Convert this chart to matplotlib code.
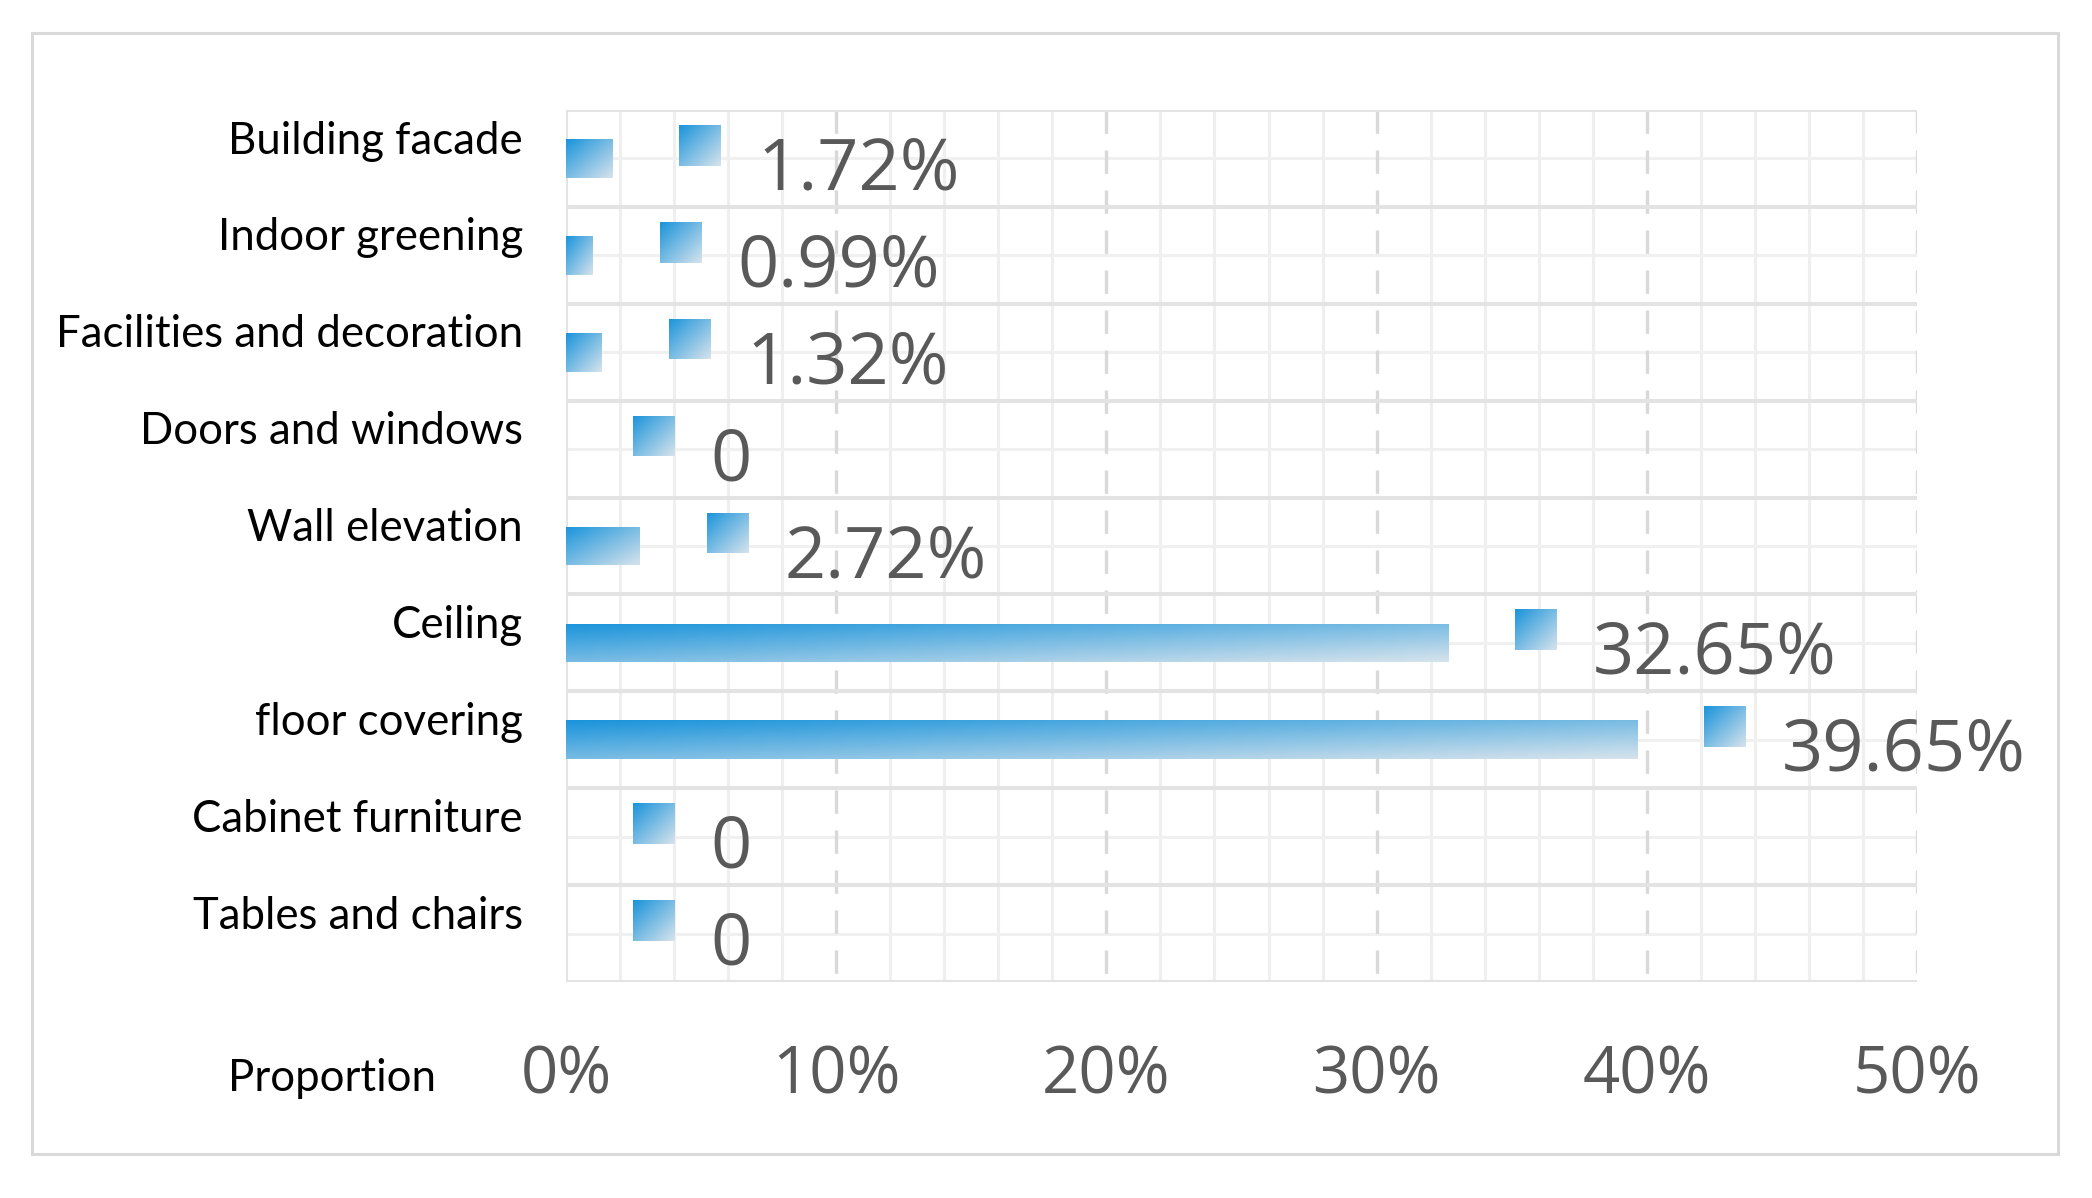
import numpy as np
import matplotlib
matplotlib.use("Agg")
import matplotlib.pyplot as plt
from matplotlib.colors import LinearSegmentedColormap
from matplotlib.patches import Rectangle

# ---- data ----
categories = ["Building facade", "Indoor greening", "Facilities and decoration",
              "Doors and windows", "Wall elevation", "Ceiling", "floor covering",
              "Cabinet furniture", "Tables and chairs"]
values = [1.72, 0.99, 1.32, 0, 2.72, 32.65, 39.65, 0, 0]
value_labels = ["1.72%", "0.99%", "1.32%", "0", "2.72%", "32.65%", "39.65%", "0", "0"]
x_ticks = [0, 10, 20, 30, 40, 50]
x_tick_labels = ["0%", "10%", "20%", "30%", "40%", "50%"]
axis_title = "Proportion"

W, H = 2092, 1198
fig = plt.figure(figsize=(W / 100, H / 100), dpi=100)
ax = fig.add_axes([566 / W, 1 - 982 / H, (1917 - 566) / W, (982 - 110) / H])

ypos = np.arange(len(categories))
vals = np.array(values, dtype=float)

# gradient fill
cmap = LinearSegmentedColormap.from_list("g", ["#1a94db", "#d6e3ec"])
n = 64
u = np.linspace(0, 1, n)
G = 0.5 * u[None, :] + 0.5 * u[:, None]


def grad_fill(patch):
    x0, y0 = patch.get_x(), patch.get_y()
    w, h = patch.get_width(), patch.get_height()
    if w <= 0:
        return
    im = ax.imshow(G, cmap=cmap, vmin=0, vmax=1,
                   extent=(x0, x0 + w, y0 + h, y0), origin="upper",
                   aspect="auto", interpolation="bilinear", zorder=3)
    im.set_clip_path(patch)


# main bars
bars = ax.barh(ypos, vals, height=0.4, color="none", edgecolor="none", zorder=3)
for b in bars:
    grad_fill(b)

# label keys (small gradient squares)
keys = ax.barh(ypos - 0.135, 1.52, left=vals + 2.48, height=0.42,
               color="none", edgecolor="none", zorder=3)
for k in keys:
    grad_fill(k)

# value labels
for y, v, lab in zip(ypos, vals, value_labels):
    ax.text(v + 5.35, y + 0.32, lab, ha="left", va="baseline",
            fontsize=52, family=["Open Sans", "DejaVu Sans"], color="#595959", zorder=4)

# grid lines
minor_x = [x for x in range(2, 50, 2) if x % 10 != 0]
ax.vlines(minor_x, -0.5, 8.5, colors="#efefef", lw=2.2, zorder=0.5)
ax.vlines([10, 20, 30, 40, 50], -0.5, 8.5, colors="#d9d9d9", lw=2.4,
          linestyles=(0, (7, 5)), zorder=0.7)
ax.vlines([0], -0.5, 8.5, colors="#e3e3e3", lw=2.9, zorder=0.8)
ax.hlines(ypos, 0, 50, colors="#f0f0f0", lw=2.2, zorder=0.6)
ax.hlines(np.arange(-0.5, 9, 1.0), 0, 50, colors="#e3e3e3", lw=2.9, zorder=0.9)

ax.set_xlim(0, 50)
ax.set_ylim(8.5, -0.5)
for s in ax.spines.values():
    s.set_visible(False)

ax.set_xticks(x_ticks)
ax.set_xticklabels(x_tick_labels, fontsize=47, family=["Open Sans", "DejaVu Sans"], color="#595959")
ax.set_yticks(ypos - 0.05)
ax.set_yticklabels(categories, fontsize=31.5, family=["Lato", "DejaVu Sans"], color="black")
ax.tick_params(axis="x", length=0, pad=44)
ax.tick_params(axis="y", length=0, pad=31)
for t in ax.get_yticklabels():
    t.set_va("baseline")

fig.text(436 / W, 1 - 1091 / H, axis_title, ha="right", va="baseline",
         fontsize=31.5, family=["Lato", "DejaVu Sans"], color="black")

# outer frame
fig.add_artist(Rectangle((32 / W, 1 - 1154 / H), (2058 - 32) / W, (1154 - 33) / H,
                         transform=fig.transFigure, fill=False,
                         edgecolor="#d9d9d9", lw=2.2))

fig.savefig("out.png", dpi=100)
